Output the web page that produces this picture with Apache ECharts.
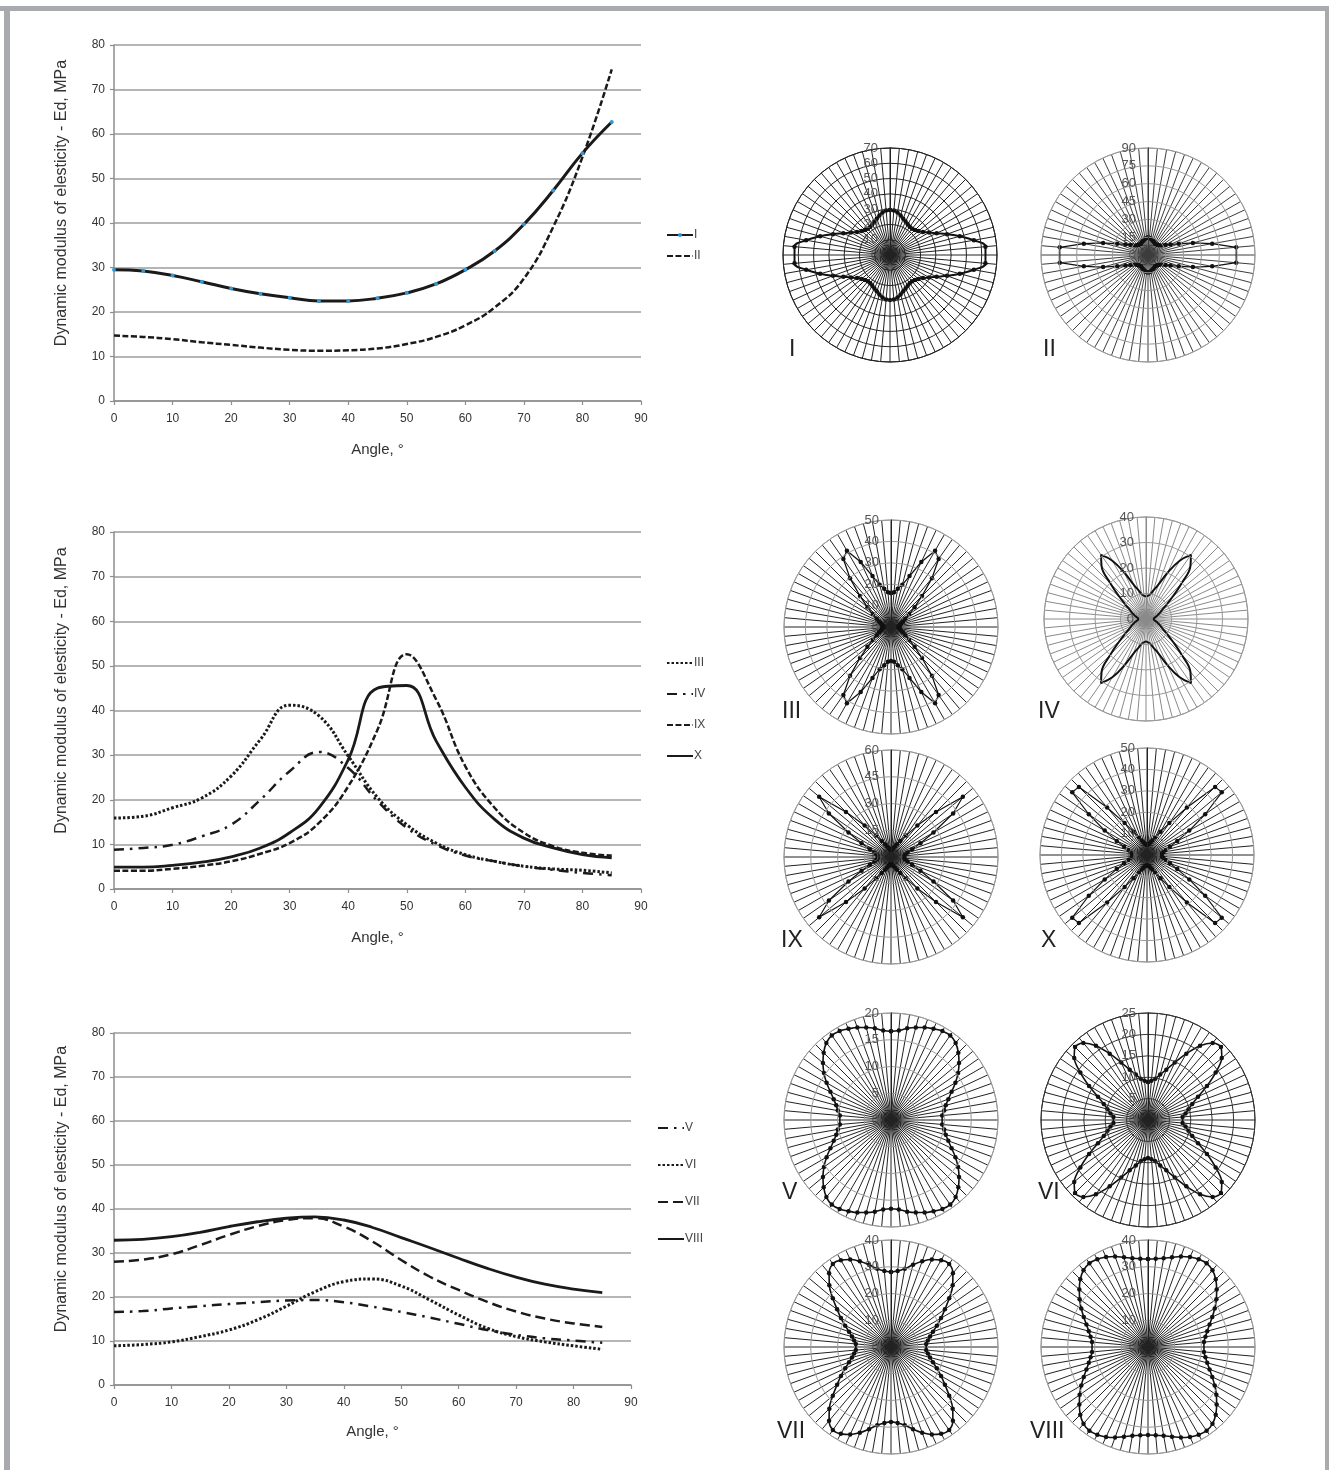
<!DOCTYPE html>
<html><head><meta charset="utf-8">
<script src="https://cdn.jsdelivr.net/npm/echarts@6/dist/echarts.min.js"></script>
<style>html,body{margin:0;padding:0;background:#fff}#c{width:1329px;height:1470px}</style>
</head><body><div id="c"></div><script>
// ---- data ----
const angles = [0,5,10,15,20,25,30,35,40,45,50,55,60,65,70,75,80,85];
const xTicks = [0,10,20,30,40,50,60,70,80,90];
const yTicks = [0,10,20,30,40,50,60,70,80];
const ed_I    = [29.5,29.2,28.2,26.8,25.3,24.1,23.2,22.5,22.5,23.1,24.3,26.3,29.5,33.7,39.7,47.3,55.7,62.7];
const ed_II   = [14.7,14.4,13.9,13.2,12.6,12.0,11.5,11.3,11.4,11.8,12.8,14.4,17.0,21.0,27.5,39.1,54.8,74.5];
const ed_III  = [15.9,16.3,18.2,20.4,25.3,33.5,41.2,38.8,29.8,20.5,14.4,10.3,7.7,6.2,5.1,4.5,4.2,3.6];
const ed_IV   = [8.8,9.2,9.9,11.8,14.4,20.0,26.4,30.7,27.1,19.7,13.7,9.9,7.5,6.2,5.1,4.3,3.6,3.1];
const ed_IX   = [4.1,4.1,4.5,5.2,6.2,7.9,10.3,14.8,23.0,35.7,52.6,42.5,27.5,18.2,12.6,9.6,8.1,7.5];
const ed_X    = [4.9,4.9,5.3,6.0,7.2,9.2,12.6,18.2,29.0,45.0,45.6,33.2,22.8,15.6,11.4,9.2,7.7,7.0];
const ed_V    = [16.6,16.8,17.4,17.9,18.4,18.8,19.2,19.3,18.8,17.8,16.6,15.3,13.9,12.5,11.4,10.6,10.1,9.6];
const ed_VI   = [8.9,9.2,9.8,11.0,12.5,14.8,17.9,21.2,23.5,24.1,22.5,19.3,15.9,12.9,11.0,9.8,8.9,8.1];
const ed_VII  = [28.0,28.5,29.7,31.8,34.1,36.1,37.5,37.9,36.0,32.6,28.4,24.6,21.6,18.9,16.7,15.1,14.0,13.2];
const ed_VIII = [32.9,33.1,33.7,34.7,36.0,37.1,37.9,38.2,37.5,35.8,33.5,31.2,28.8,26.5,24.5,22.9,21.8,21.0];
// polar radial tick labels
const rTicks_I    = [0,10,20,30,40,50,60,70];
const rTicks_II   = [0,15,30,45,60,75,90];
const rTicks_III  = [0,10,20,30,40,50];
const rTicks_IV   = [0,10,20,30,40];
const rTicks_IX   = [0,15,30,45,60];
const rTicks_X    = [0,10,20,30,40,50];
const rTicks_V    = [0,5,10,15,20];
const rTicks_VI   = [0,5,10,15,20,25];
const rTicks_VII  = [0,10,20,30,40];
const rTicks_VIII = [0,10,20,30,40];
const xName = 'Angle, °';
const yName = 'Dynamic modulus of elesticity - Ed, MPa';

// ---- helpers ----
const SANS = "'Liberation Sans',Arial,sans-serif";
function pairs(vals){ return angles.map((a,i)=>[a, vals[i]]); }
function mirror(vals){
  const out=[];
  for(let i=0;i<angles.length;i++) out.push([vals[i], angles[i]]);
  for(let i=angles.length-1;i>=1;i--) out.push([vals[i], 180-angles[i]]);
  for(let i=0;i<angles.length;i++) out.push([vals[i], 180+angles[i]]);
  for(let i=angles.length-1;i>=1;i--) out.push([vals[i], 360-angles[i]]);
  out.push([vals[0], 360]);
  return out;
}

const grids = [
  {left:114, top:45,  width:527, height:356, nameGap:41},
  {left:114, top:532, width:527, height:357, nameGap:41},
  {left:114, top:1033,width:517, height:352, nameGap:39}
];
const axisGray = '#8e8e8e';
const xAxes = grids.map((g,i)=>({
  gridIndex:i, type:'value', min:xTicks[0], max:xTicks[xTicks.length-1], interval:xTicks[1]-xTicks[0],
  axisLine:{show:true, lineStyle:{color:axisGray, width:1.5}},
  axisTick:{show:true, length:4, lineStyle:{color:axisGray, width:1.2}},
  splitLine:{show:false},
  axisLabel:{fontSize:12, color:'#333', fontFamily:SANS, margin:12},
  name:xName, nameLocation:'middle', nameGap:g.nameGap,
  nameTextStyle:{fontSize:15, color:'#333', fontFamily:SANS}
}));
const yAxes = grids.map((g,i)=>({
  gridIndex:i, type:'value', min:yTicks[0], max:yTicks[yTicks.length-1], interval:yTicks[1]-yTicks[0],
  axisLine:{show:true, lineStyle:{color:axisGray, width:1.5}},
  axisTick:{show:true, length:4, lineStyle:{color:axisGray, width:1.2}},
  splitLine:{show:true, lineStyle:{color:'#9c9c9c', width:1.6}},
  axisLabel:{fontSize:12, color:'#333', fontFamily:SANS, margin:9},
  name:yName, nameLocation:'middle', nameGap:44,
  nameTextStyle:{fontSize:16, color:'#333', fontFamily:SANS, padding:[0,0,0,40]}
}));

function lineSeries(name, vals, gi, style, extra){
  return Object.assign({
    name, type:'line', xAxisIndex:gi, yAxisIndex:gi, data:pairs(vals), smooth:0.45,
    symbol:'none', lineStyle:Object.assign({color:'#1a1a1a'}, style), itemStyle:{color:'#1a1a1a'},
    z:3
  }, extra||{});
}
const series = [
  lineSeries('I', ed_I, 0, {width:3}, {symbol:'circle', symbolSize:4, showSymbol:true, itemStyle:{color:'#3497d6'}}),
  lineSeries('II', ed_II, 0, {width:2.5, type:[6,2.5]}),
  lineSeries('III', ed_III, 1, {width:3, type:[2.5,2]}),
  lineSeries('IV', ed_IV, 1, {width:2.5, type:[10,6,2.5,6]}),
  lineSeries('IX', ed_IX, 1, {width:2.5, type:[6,2.5]}),
  lineSeries('X', ed_X, 1, {width:2.8}),
  lineSeries('V', ed_V, 2, {width:2.5, type:[10,6,2.5,6]}),
  lineSeries('VI', ed_VI, 2, {width:3, type:[2.5,2]}),
  lineSeries('VII', ed_VII, 2, {width:2.5, type:[10,5]}),
  lineSeries('VIII', ed_VIII, 2, {width:2.8})
];

// ---- polar charts ----
const polarDefs = [
  {label:'I',    vals:ed_I,    ticks:rTicks_I,    center:[890,255],  r:107, lab:[789,350],  grid:'#222', circ:'#222', smooth:0.4, sym:4.5, w:2},
  {label:'II',   vals:ed_II,   ticks:rTicks_II,   center:[1148,255], r:107, lab:[1043,350], grid:'#3c3c3c', circ:'#999', smooth:false, sym:4.5, w:1.3},
  {label:'III',  vals:ed_III,  ticks:rTicks_III,  center:[891,627],  r:107, lab:[782,712],  grid:'#222', circ:'#999', smooth:false, sym:4.5, w:1.3},
  {label:'IV',   vals:ed_IV,   ticks:rTicks_IV,   center:[1146,619], r:102, lab:[1038,712], grid:'#8a8a8a', circ:'#999', smooth:0.4, sym:0, w:2},
  {label:'IX',   vals:ed_IX,   ticks:rTicks_IX,   center:[891,857],  r:107, lab:[781,941],  grid:'#222', circ:'#999', smooth:false, sym:4.5, w:1.2},
  {label:'X',    vals:ed_X,    ticks:rTicks_X,    center:[1147,855], r:107, lab:[1041,941], grid:'#222', circ:'#999', smooth:false, sym:4.5, w:1.2},
  {label:'V',    vals:ed_V,    ticks:rTicks_V,    center:[891,1120], r:107, lab:[782,1193], grid:'#222', circ:'#999', smooth:0.4, sym:4.5, w:1.6},
  {label:'VI',   vals:ed_VI,   ticks:rTicks_VI,   center:[1148,1120],r:107, lab:[1038,1193],grid:'#222', circ:'#333', smooth:0.3, sym:4.5, w:1.6},
  {label:'VII',  vals:ed_VII,  ticks:rTicks_VII,  center:[891,1347], r:107, lab:[777,1432], grid:'#222', circ:'#999', smooth:0.4, sym:4.5, w:1.6},
  {label:'VIII', vals:ed_VIII, ticks:rTicks_VIII, center:[1148,1347],r:107, lab:[1030,1432],grid:'#222', circ:'#999', smooth:0.4, sym:4.5, w:1.6}
];
const polar = [], angleAxis = [], radiusAxis = [], graphic = [];
polarDefs.forEach((p,i)=>{
  polar.push({center:p.center, radius:p.r});
  angleAxis.push({polarIndex:i, type:'value', min:0, max:360, interval:5, startAngle:90, clockwise:true,
    axisLine:{show:true, lineStyle:{color:p.circ, width:1}}, axisTick:{show:false}, axisLabel:{show:false},
    splitLine:{show:true, lineStyle:{color:p.grid, width:1}}});
  radiusAxis.push({polarIndex:i, type:'value', min:p.ticks[0], max:p.ticks[p.ticks.length-1], interval:p.ticks[1]-p.ticks[0],
    axisLine:{show:true, lineStyle:{color:p.grid, width:1}}, axisTick:{show:false},
    axisLabel:{show:true, fontSize:13, color:'#555', fontFamily:SANS, margin:12},
    splitLine:{show:true, lineStyle:{color:p.circ, width:1}}, z:5});
  series.push({type:'line', coordinateSystem:'polar', polarIndex:i, data:mirror(p.vals),
    smooth:p.smooth, symbol:p.sym?'circle':'none', symbolSize:p.sym, showSymbol:!!p.sym,
    lineStyle:{color:'#111', width:p.w}, itemStyle:{color:'#111'}, z:4, silent:true});
  graphic.push({type:'text', left:p.lab[0], top:p.lab[1]-12,
    style:{text:p.label, fontSize:23, fontFamily:SANS, fill:'#222'}});
});
// frame
graphic.push({type:'rect', shape:{x:0,y:6,width:1329,height:5}, style:{fill:'#a9aaad'}});
graphic.push({type:'rect', shape:{x:4,y:6,width:6,height:1464}, style:{fill:'#a9aaad'}});
graphic.push({type:'rect', shape:{x:1325,y:6,width:4,height:1464}, style:{fill:'#a9aaad'}});

const hide = {opacity:0};
const legendBase = {orient:'vertical', itemWidth:26, itemHeight:10,
  textStyle:{fontSize:12, color:'#444', fontFamily:SANS, padding:[0,0,0,-4]}, selectedMode:false};
const legend = [
  Object.assign({}, legendBase, {data:[{name:'I', itemStyle:{borderWidth:0}}, {name:'II', itemStyle:hide}], left:661, top:224, itemGap:9, itemHeight:5}),
  Object.assign({}, legendBase, {data:['III','IV','IX','X'].map(n=>({name:n, itemStyle:hide})), left:661, top:652, itemGap:19}),
  Object.assign({}, legendBase, {data:['V','VI','VII','VIII'].map(n=>({name:n, itemStyle:hide})), left:652, top:1117, itemGap:25})
];

const chart = echarts.init(document.getElementById('c'), null, {renderer:'canvas'});
chart.setOption({
  backgroundColor:'#fff', animation:false,
  grid: grids.map(g=>({left:g.left, top:g.top, width:g.width, height:g.height})),
  xAxis:xAxes, yAxis:yAxes, polar, angleAxis, radiusAxis, legend, series, graphic
});
</script></body></html>
